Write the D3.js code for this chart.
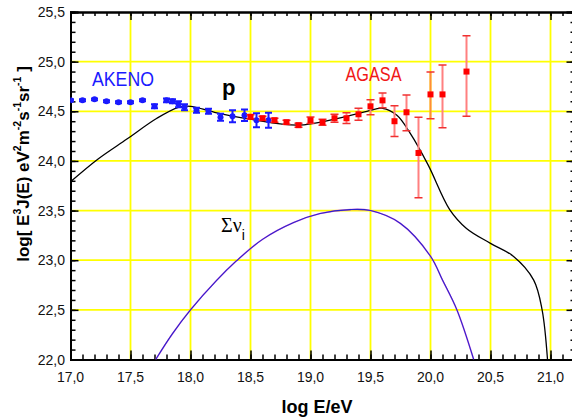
<!DOCTYPE html>
<meta charset="utf-8">
<style>
  body { margin: 0; background: #fff; }
  svg text { font-family: "Liberation Sans", Arial, sans-serif; }
</style>
<body>
<script src="https://d3js.org/d3.v7.min.js"></script>
<script>
// AKENO data (log E, log flux, error)
var akenoE = [17.0, 17.1, 17.2, 17.3, 17.4, 17.5, 17.6, 17.7, 17.8, 17.85, 17.9, 17.95, 18.05, 18.15, 18.25, 18.35, 18.45, 18.55, 18.65];
var akenoY = [24.61, 24.61, 24.62, 24.60, 24.59, 24.59, 24.61, 24.55, 24.61, 24.60, 24.57, 24.54, 24.51, 24.50, 24.44, 24.45, 24.46, 24.41, 24.41];
var akenoErr = [0.01, 0.01, 0.01, 0.01, 0.01, 0.01, 0.01, 0.02, 0.02, 0.02, 0.03, 0.03, 0.025, 0.025, 0.035, 0.06, 0.057, 0.07, 0.075];

// AGASA data
var agasaE = [18.5, 18.6, 18.7, 18.8, 18.9, 19.0, 19.1, 19.2, 19.3, 19.4, 19.5, 19.6, 19.7, 19.8, 19.9, 20.0, 20.1, 20.3];
var agasaY = [24.445, 24.43, 24.41, 24.39, 24.36, 24.41, 24.39, 24.43, 24.43, 24.47, 24.55, 24.61, 24.40, 24.49, 24.08, 24.67, 24.67, 24.90];
var agasaUp = [0.02, 0.02, 0.02, 0.02, 0.02, 0.033, 0.03, 0.04, 0.054, 0.06, 0.067, 0.074, 0.155, 0.175, 0.36, 0.225, 0.295, 0.36];
var agasaDn = [0.02, 0.02, 0.02, 0.02, 0.02, 0.033, 0.03, 0.04, 0.054, 0.06, 0.084, 0.074, 0.155, 0.185, 0.45, 0.245, 0.336, 0.45];

// proton model curve
var protonE = [17.0, 17.23, 17.47, 17.72, 17.9, 18.0, 18.2, 18.5, 18.9, 19.2, 19.47, 19.6, 19.72, 19.83, 19.98, 20.16, 20.3, 20.5, 20.69, 20.86, 20.93, 20.975];
var protonY = [23.79, 24.02, 24.22, 24.43, 24.54, 24.55, 24.49, 24.42, 24.36, 24.42, 24.50, 24.53, 24.46, 24.28, 23.96, 23.51, 23.32, 23.17, 23.04, 22.80, 22.50, 22.0];

// neutrino curve
var nuE = [17.71, 17.85, 18.0, 18.22, 18.38, 18.6, 18.86, 19.08, 19.33, 19.5, 19.75, 20.0, 20.1, 20.22, 20.36];
var nuY = [22.0, 22.26, 22.5, 22.80, 22.99, 23.21, 23.38, 23.47, 23.51, 23.50, 23.37, 23.04, 22.80, 22.50, 22.0];

var xTicks = d3.range(17, 21.01, 0.5);
var yTicks = d3.range(22, 25.51, 0.5);

var W = 572, H = 417;
var x = d3.scaleLinear().domain([17, 21.2]).range([70.5, 574.5]);
var y = d3.scaleLinear().domain([22, 25.5]).range([359.5, 12]);
var fmt = function(d) { return d3.format(".1f")(d).replace(".", ","); };

var svg = d3.select("body").append("svg").attr("width", W).attr("height", H);

svg.append("defs").append("clipPath").attr("id", "clip")
  .append("rect").attr("x", 70.5).attr("y", 12).attr("width", 504).attr("height", 347.5);

// grid
var grid = svg.append("g");
grid.selectAll("line.v").data(xTicks.filter(function(d) { return d > 17; }))
  .enter().append("line")
  .attr("x1", function(d) { return x(d); }).attr("x2", function(d) { return x(d); })
  .attr("y1", y(22)).attr("y2", y(25.5))
  .attr("stroke", "#ffff00").attr("stroke-width", 1.8);
grid.selectAll("line.h").data(yTicks.filter(function(d) { return d > 22 && d < 25.5; }))
  .enter().append("line")
  .attr("y1", function(d) { return y(d); }).attr("y2", function(d) { return y(d); })
  .attr("x1", x(17)).attr("x2", x(21.2))
  .attr("stroke", "#ffff00").attr("stroke-width", 1.8);

// axes (ticks inward)
var xMinor = d3.range(17, 21.21, 0.1);
var yMinor = d3.range(22, 25.51, 0.1);

svg.append("g").attr("transform", "translate(0," + y(22) + ")")
  .call(d3.axisTop(x).tickValues(xMinor).tickSize(5).tickFormat(""));
svg.append("g").attr("transform", "translate(0," + y(22) + ")")
  .call(d3.axisTop(x).tickValues(xTicks).tickSize(9).tickFormat(""));
svg.append("g").attr("transform", "translate(0," + y(25.5) + ")")
  .call(d3.axisBottom(x).tickValues(xMinor).tickSize(4).tickFormat(""));
svg.append("g").attr("transform", "translate(0," + y(25.5) + ")")
  .call(d3.axisBottom(x).tickValues(xTicks).tickSize(8).tickFormat(""));
svg.append("g").attr("transform", "translate(" + x(17) + ",0)")
  .call(d3.axisRight(y).tickValues(yMinor).tickSize(5).tickFormat(""));
svg.append("g").attr("transform", "translate(" + x(17) + ",0)")
  .call(d3.axisRight(y).tickValues(yTicks).tickSize(8).tickFormat(""));
svg.append("g").attr("transform", "translate(" + x(21.2) + ",0)")
  .call(d3.axisLeft(y).tickValues(yMinor).tickSize(4).tickFormat(""));
svg.append("g").attr("transform", "translate(" + x(21.2) + ",0)")
  .call(d3.axisLeft(y).tickValues(yTicks).tickSize(8).tickFormat(""));
svg.selectAll(".domain").attr("stroke", "#000").attr("stroke-width", 2);
svg.selectAll(".tick line").attr("stroke", "#000").attr("stroke-width", 1.5);

// tick labels
svg.append("g").selectAll("text").data(xTicks).enter().append("text")
  .attr("x", function(d) { return x(d); }).attr("y", 382)
  .attr("text-anchor", "middle").attr("font-size", 14).attr("fill", "#111")
  .text(fmt);
svg.append("g").selectAll("text").data(yTicks).enter().append("text")
  .attr("x", 65).attr("y", function(d) { return y(d) + 5; })
  .attr("text-anchor", "end").attr("font-size", 14).attr("fill", "#111")
  .text(fmt);

// axis titles
svg.append("text").attr("x", 317).attr("y", 413).attr("text-anchor", "middle")
  .attr("font-size", 18).attr("font-weight", "bold").text("log E/eV");

var yl = svg.append("text").attr("transform", "translate(29,164) rotate(-90)")
  .attr("text-anchor", "middle").attr("font-size", 17).attr("font-weight", "bold");
var parts = [["log[ E", 0], ["3", 1], ["J(E) eV", 0], ["2", 1], ["m", 0], ["-2", 1], ["s", 0], ["-1", 1], ["sr", 0], ["-1", 1], [" ]", 0]];
parts.forEach(function(p) {
  var t = yl.append("tspan").text(p[0]);
  if (p[1]) t.attr("font-size", 10.5).attr("dy", -8);
  else t.attr("dy", 8);
});
yl.select("tspan").attr("dy", 0);

var plot = svg.append("g").attr("clip-path", "url(#clip)");
var line = d3.line().x(function(d) { return x(d[0]); }).y(function(d) { return y(d[1]); })
  .curve(d3.curveCatmullRom.alpha(0.5));

// neutrino curve
var nuData = d3.zip(nuE, nuY);
plot.append("path").datum(nuData).attr("d", line)
  .attr("fill", "none").attr("stroke", "#e040e0").attr("stroke-width", 1.6).attr("opacity", 0.7);
plot.append("path").datum(nuData).attr("d", line)
  .attr("fill", "none").attr("stroke", "#2a22c8").attr("stroke-width", 1.1);

// proton curve
plot.append("path").datum(d3.zip(protonE, protonY)).attr("d", line)
  .attr("fill", "none").attr("stroke", "#000").attr("stroke-width", 1.3);

// AKENO points
var ak = plot.append("g").selectAll("g").data(d3.range(akenoE.length)).enter().append("g");
ak.append("line")
  .attr("x1", function(i) { return x(akenoE[i]); }).attr("x2", function(i) { return x(akenoE[i]); })
  .attr("y1", function(i) { return y(akenoY[i] + akenoErr[i]); })
  .attr("y2", function(i) { return y(akenoY[i] - akenoErr[i]); })
  .attr("stroke", "#1a1aff").attr("stroke-width", 2);
[1, -1].forEach(function(s) {
  ak.append("line")
    .attr("x1", function(i) { return x(akenoE[i]) - 3.5; }).attr("x2", function(i) { return x(akenoE[i]) + 3.5; })
    .attr("y1", function(i) { return y(akenoY[i] + s * akenoErr[i]); })
    .attr("y2", function(i) { return y(akenoY[i] + s * akenoErr[i]); })
    .attr("stroke", "#1a1aff").attr("stroke-width", 2);
});
ak.append("circle")
  .attr("cx", function(i) { return x(akenoE[i]); }).attr("cy", function(i) { return y(akenoY[i]); })
  .attr("r", 3).attr("fill", "#1a1aff");

// AGASA points
var ag = plot.append("g").selectAll("g").data(d3.range(agasaE.length)).enter().append("g");
ag.append("line")
  .attr("x1", function(i) { return x(agasaE[i]); }).attr("x2", function(i) { return x(agasaE[i]); })
  .attr("y1", function(i) { return y(agasaY[i] + agasaUp[i]); })
  .attr("y2", function(i) { return y(agasaY[i] - agasaDn[i]); })
  .attr("stroke", function(i) { return agasaE[i] === 20.0 ? "#ff8c3a" : "#ff8080"; })
  .attr("stroke-width", 2);
ag.append("line")
  .attr("x1", function(i) { return x(agasaE[i]) - 4; }).attr("x2", function(i) { return x(agasaE[i]) + 4; })
  .attr("y1", function(i) { return y(agasaY[i] + agasaUp[i]); })
  .attr("y2", function(i) { return y(agasaY[i] + agasaUp[i]); })
  .attr("stroke", "#f03030").attr("stroke-width", 1.5);
ag.append("line")
  .attr("x1", function(i) { return x(agasaE[i]) - 4; }).attr("x2", function(i) { return x(agasaE[i]) + 4; })
  .attr("y1", function(i) { return y(agasaY[i] - agasaDn[i]); })
  .attr("y2", function(i) { return y(agasaY[i] - agasaDn[i]); })
  .attr("stroke", "#f03030").attr("stroke-width", 1.5);
ag.append("rect")
  .attr("x", function(i) { return x(agasaE[i]) - 3; }).attr("y", function(i) { return y(agasaY[i]) - 3; })
  .attr("width", 6).attr("height", 6).attr("fill", "#ff0000");

// labels
svg.append("text").attr("x", 92).attr("y", 86).attr("font-size", 21)
  .attr("textLength", 62).attr("lengthAdjust", "spacingAndGlyphs")
  .attr("fill", "#1a1aff").text("AKENO");
svg.append("text").attr("x", 345.5).attr("y", 81).attr("font-size", 19.5)
  .attr("textLength", 56).attr("lengthAdjust", "spacingAndGlyphs")
  .attr("fill", "#f01818").text("AGASA");
svg.append("text").attr("x", 222).attr("y", 95).attr("font-size", 22)
  .attr("font-weight", "bold").text("p");
var nu = svg.append("text").attr("x", 221).attr("y", 232)
  .attr("font-size", 20).style("font-family", "'Liberation Serif', 'DejaVu Serif', serif");
nu.append("tspan").text("Σν");
nu.append("tspan").attr("font-size", 14).attr("dy", 8).style("font-family", "'Liberation Sans', Arial, sans-serif").text("i");
</script>
</body>
